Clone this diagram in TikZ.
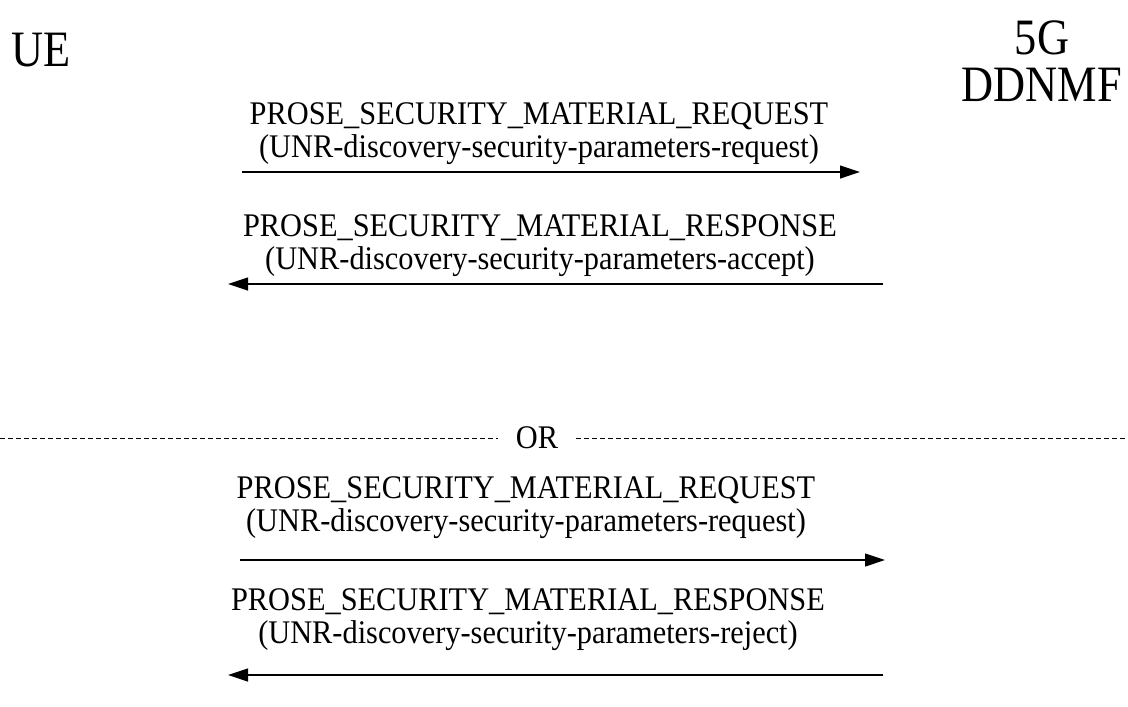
\documentclass[tikz,border=0pt]{standalone}
\usepackage{fontspec}
\setmainfont[FakeStretch=0.92]{Liberation Serif}
\newfontfamily\partyfont[FakeStretch=0.87]{Liberation Serif}
\usepackage{tikz}
\usetikzlibrary{arrows.meta,positioning}

\begin{document}
\begin{tikzpicture}[x=1pt, y=-1pt,
    every node/.style={font=\fontsize{33}{33}\selectfont, inner sep=0pt},
    party/.style={font=\partyfont\fontsize{51}{47}\selectfont, align=center},
    msgtext/.style={align=center},
    msg/.style={-{Triangle[length=20pt,width=13pt]}, line width=1.2pt},
    sep/.style={dash pattern=on 5pt off 3pt, line width=0.8pt}]
  \useasboundingbox (0,0) rectangle (1128,707);

  % Parties
  \node[party] (ue) at (41,50) {UE};
  \node[party] (ddnmf) at (1042,61) {5G\\DDNMF};

  % Accept exchange
  \node[msgtext] (req1) at (539,134) {PROSE\_SECURITY\_MATERIAL\_REQUEST\\(UNR-discovery-security-parameters-request)};
  \coordinate (ueA) at (242,172);
  \coordinate (nfA) at (860,172);
  \draw[msg] (ueA) -- (nfA);

  \node[msgtext] (res1) at (540,246) {PROSE\_SECURITY\_MATERIAL\_RESPONSE\\(UNR-discovery-security-parameters-accept)};
  \coordinate (nfB) at (883,284);
  \coordinate (ueB) at (228,284);
  \draw[msg] (nfB) -- (ueB);

  % Alternative
  \node[inner xsep=18pt] (alt) at (537,438) {OR};
  \coordinate (sepL) at (0,438);
  \coordinate (sepR) at (1128,438);
  \draw[sep] (sepL) -- (alt.west |- sepL);
  \draw[sep] (alt.east |- sepR) -- (sepR);

  % Reject exchange
  \node[msgtext] (req2) at (526,508) {PROSE\_SECURITY\_MATERIAL\_REQUEST\\(UNR-discovery-security-parameters-request)};
  \coordinate (ueC) at (240,560);
  \coordinate (nfC) at (885,560);
  \draw[msg] (ueC) -- (nfC);

  \node[msgtext] (res2) at (528,620) {PROSE\_SECURITY\_MATERIAL\_RESPONSE\\(UNR-discovery-security-parameters-reject)};
  \coordinate (nfD) at (883,675);
  \coordinate (ueD) at (228,675);
  \draw[msg] (nfD) -- (ueD);
\end{tikzpicture}
\end{document}
